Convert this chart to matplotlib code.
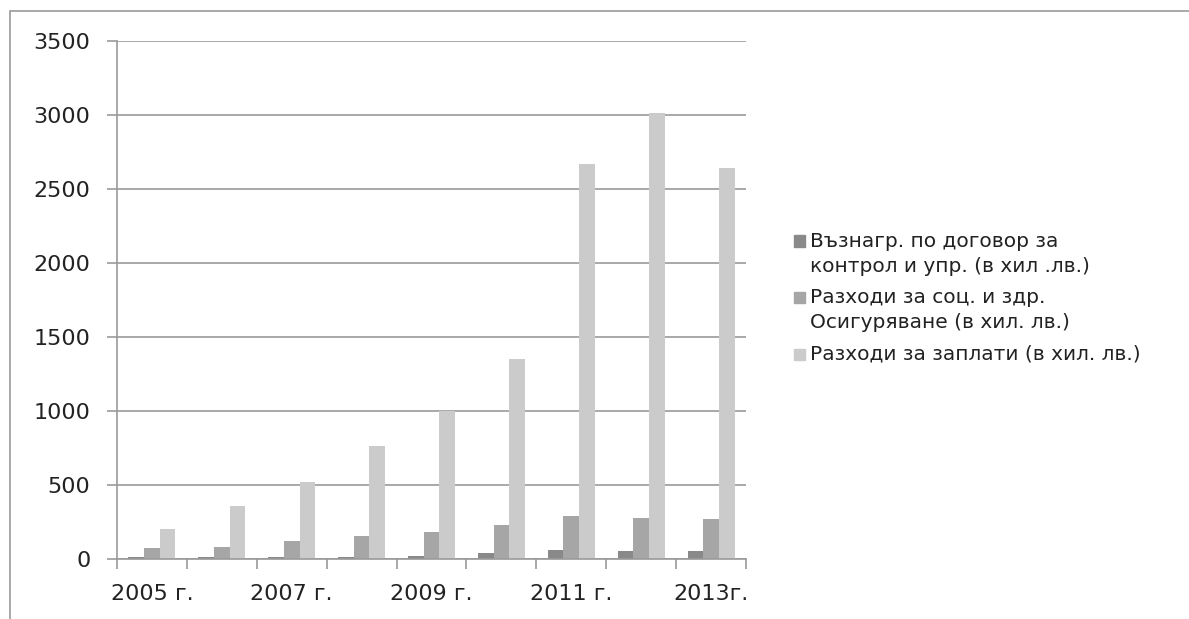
import numpy as np
import matplotlib
matplotlib.use("Agg")
import matplotlib.pyplot as plt
from matplotlib.patches import Rectangle

# Данни
years = ["2005 г.", "2006 г.", "2007 г.", "2008 г.", "2009 г.", "2010 г.", "2011 г.", "2012 г.", "2013г."]
shown_labels = ["2005 г.", "2007 г.", "2009 г.", "2011 г.", "2013г."]
contract_pay = [11, 13, 13, 13, 22, 38, 63, 54, 56]
social_costs = [72, 83, 123, 157, 183, 228, 289, 280, 271]
salary_costs = [201, 356, 519, 761, 1003, 1348, 2668, 3011, 2640]
series_names = [
    "Възнагр. по договор за\nконтрол и упр. (в хил .лв.)",
    "Разходи за соц. и здр.\nОсигуряване (в хил. лв.)",
    "Разходи за заплати (в хил. лв.)",
]
colors = ["#898989", "#a6a6a6", "#cbcbcb"]
y_ticks = [0, 500, 1000, 1500, 2000, 2500, 3000, 3500]

plt.rcParams['font.family'] = ['DejaVu Sans']
grid_col = "#9a9a9a"
text_col = "#222222"

fig = plt.figure(figsize=(11.89, 6.19), dpi=100)
ax = fig.add_axes([117/1189, 60/619, 629/1189, 518/619])

x = np.arange(len(years))
w = 0.224
for i, vals in enumerate([contract_pay, social_costs, salary_costs]):
    ax.bar(x + (i - 1) * w, vals, width=w, color=colors[i], zorder=3)

ax.set_xlim(-0.5, len(years) - 0.5)
ax.set_ylim(0, 3500)
ax.set_yticks(y_ticks)
ax.yaxis.grid(True, color=grid_col, linewidth=1.2, zorder=0)

# деления по границите на категориите
ax.set_xticks(np.arange(len(years) + 1) - 0.5)
ax.set_xticklabels([])
ax.set_xticks([years.index(l) for l in shown_labels], minor=True)
ax.set_xticklabels(shown_labels, minor=True)
ax.tick_params(axis='x', which='major', length=7.2, width=1.2, color=grid_col, direction='out')
ax.tick_params(axis='x', which='minor', length=0, pad=18, labelsize=16, labelcolor=text_col)
ax.tick_params(axis='y', length=7.2, width=1.2, color=grid_col, pad=12, labelsize=16, labelcolor=text_col)

for s in ['top', 'right']:
    ax.spines[s].set_visible(False)
for s in ['left', 'bottom']:
    ax.spines[s].set_color(grid_col)
    ax.spines[s].set_linewidth(1.2)
    ax.spines[s].set_zorder(4)

# легенда
H = 619.0
cursor = 241
for i, name in enumerate(series_names):
    fig.patches.append(Rectangle((794/1189, 1 - (cursor + 5.5)/H), 11/1189, 11/H,
                                 transform=fig.transFigure, color=colors[i]))
    for j, line in enumerate(name.split("\n")):
        fig.text(810/1189, 1 - (cursor + j * 25.5)/H, line, fontsize=14.5,
                 color=text_col, va='center', ha='left')
    cursor += 25.5 * (len(name.split("\n")) - 1) + 31

# рамка
fig.patches.append(Rectangle((9.5/1189, -0.1), 1.2, 1 - 11/H + 0.1,
                             transform=fig.transFigure, fill=False,
                             edgecolor=grid_col, linewidth=1.2))

fig.savefig("out.png", dpi=100)
